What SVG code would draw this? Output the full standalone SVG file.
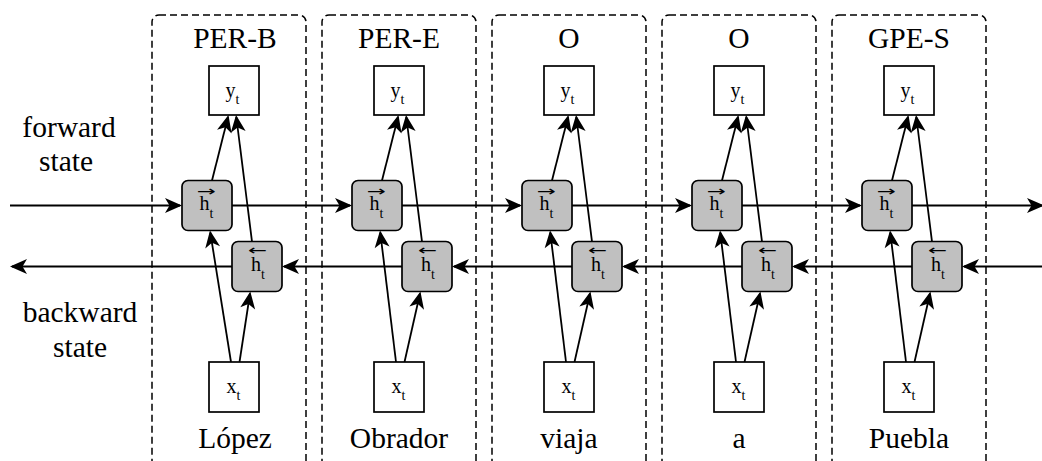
<svg xmlns="http://www.w3.org/2000/svg" width="1042" height="461" viewBox="0 0 1042 461">
<style>
.col{fill:none;stroke:#000;stroke-width:1.5;stroke-dasharray:7 4}
.io{fill:#fff;stroke:#000;stroke-width:1.7}
.h{fill:#c0c0c0;stroke:#000;stroke-width:1.7}
.lbl{font-family:'Liberation Serif','Times New Roman',Times,serif;font-size:29.5px;fill:#000;text-anchor:middle}
.sym{font-family:'Liberation Serif','Times New Roman',Times,serif;font-size:20px;fill:#000}
.sub{font-size:14px}
.acc{font-family:'DejaVu Sans',sans-serif;font-size:14px;fill:#000}
.cn{fill:none;stroke:#000;stroke-width:1.8;marker-end:url(#ah)}
</style>
<defs>
<marker id="ah" markerUnits="userSpaceOnUse" markerWidth="22" markerHeight="18" viewBox="-19 -9 22 18" refX="-2" refY="0" orient="auto">
<path d="M0,0 L-17,-7.5 L-12.5,0 L-17,7.5 Z" fill="#000"/>
</marker>
</defs>
<rect width="1042" height="461" fill="#fff"/>
<g id="side-labels">
<text class="lbl" x="69" y="137">forward</text>
<text class="lbl" x="66" y="171">state</text>
<text class="lbl" x="80" y="322">backward</text>
<text class="lbl" x="80" y="357">state</text>
</g>
<g id="col1">
<rect class="col" x="152" y="15" width="154" height="470" rx="7"/>
<text class="lbl" x="235" y="48">PER-B</text>
<text class="lbl" x="235" y="448">López</text>
</g>
<g id="col2">
<rect class="col" x="322" y="15" width="154" height="470" rx="7"/>
<text class="lbl" x="399" y="48">PER-E</text>
<text class="lbl" x="399" y="448">Obrador</text>
</g>
<g id="col3">
<rect class="col" x="492" y="15" width="154" height="470" rx="7"/>
<text class="lbl" x="569" y="48">O</text>
<text class="lbl" x="569" y="448">viaja</text>
</g>
<g id="col4">
<rect class="col" x="662" y="15" width="154" height="470" rx="7"/>
<text class="lbl" x="739" y="48">O</text>
<text class="lbl" x="739" y="448">a</text>
</g>
<g id="col5">
<rect class="col" x="832" y="15" width="154" height="470" rx="7"/>
<text class="lbl" x="909" y="48">GPE-S</text>
<text class="lbl" x="909" y="448">Puebla</text>
</g>
<g id="connectors">
<path class="cn" d="M10,205.5 H180"/>
<path class="cn" d="M232,205.5 H350"/>
<path class="cn" d="M402,205.5 H520"/>
<path class="cn" d="M572,205.5 H690"/>
<path class="cn" d="M742,205.5 H860"/>
<path class="cn" d="M912,205.5 H1042"/>
<path class="cn" d="M1044,266.5 H964"/>
<path class="cn" d="M912,266.5 H794"/>
<path class="cn" d="M742,266.5 H624"/>
<path class="cn" d="M572,266.5 H454"/>
<path class="cn" d="M402,266.5 H284"/>
<path class="cn" d="M232,266.5 H12"/>
<path class="cn" d="M212,180.5 L228,117"/>
<path class="cn" d="M252,241.5 L236.3,117"/>
<path class="cn" d="M231,362 L210.3,232.5"/>
<path class="cn" d="M239.5,362 L250,293.5"/>
<path class="cn" d="M382,180.5 L398,117"/>
<path class="cn" d="M422,241.5 L406.3,117"/>
<path class="cn" d="M396,362 L380.3,232.5"/>
<path class="cn" d="M404.5,362 L420,293.5"/>
<path class="cn" d="M552,180.5 L568,117"/>
<path class="cn" d="M592,241.5 L576.3,117"/>
<path class="cn" d="M566,362 L550.3,232.5"/>
<path class="cn" d="M574.5,362 L590,293.5"/>
<path class="cn" d="M722,180.5 L738,117"/>
<path class="cn" d="M762,241.5 L746.3,117"/>
<path class="cn" d="M736,362 L720.3,232.5"/>
<path class="cn" d="M744.5,362 L760,293.5"/>
<path class="cn" d="M892,180.5 L908,117"/>
<path class="cn" d="M932,241.5 L916.3,117"/>
<path class="cn" d="M906,362 L890.3,232.5"/>
<path class="cn" d="M914.5,362 L930,293.5"/>
</g>
<g id="y1"><rect class="io" x="209" y="66" width="50" height="49"/><text class="sym" x="225.5" y="97">y<tspan class="sub" dy="7">t</tspan></text></g>
<g id="x1"><rect class="io" x="209" y="362" width="50" height="50"/><text class="sym" x="226.5" y="393">x<tspan class="sub" dy="7">t</tspan></text></g>
<g id="hf1"><rect class="h" x="182" y="180.5" width="50" height="50" rx="6"/><text class="acc" x="196.7" y="195.5" textLength="19" lengthAdjust="spacingAndGlyphs">→</text><text class="sym" x="199.5" y="210">h<tspan class="sub" dy="8">t</tspan></text></g>
<g id="hb1"><rect class="h" x="232" y="241.5" width="50" height="50" rx="6"/><text class="acc" x="248" y="254.5" textLength="19" lengthAdjust="spacingAndGlyphs">←</text><text class="sym" x="251" y="271">h<tspan class="sub" dy="7.5">t</tspan></text></g>
<g id="y2"><rect class="io" x="374" y="66" width="50" height="49"/><text class="sym" x="390.5" y="97">y<tspan class="sub" dy="7">t</tspan></text></g>
<g id="x2"><rect class="io" x="374" y="362" width="50" height="50"/><text class="sym" x="391.5" y="393">x<tspan class="sub" dy="7">t</tspan></text></g>
<g id="hf2"><rect class="h" x="352" y="180.5" width="50" height="50" rx="6"/><text class="acc" x="366.7" y="195.5" textLength="19" lengthAdjust="spacingAndGlyphs">→</text><text class="sym" x="369.5" y="210">h<tspan class="sub" dy="8">t</tspan></text></g>
<g id="hb2"><rect class="h" x="402" y="241.5" width="50" height="50" rx="6"/><text class="acc" x="418" y="254.5" textLength="19" lengthAdjust="spacingAndGlyphs">←</text><text class="sym" x="421" y="271">h<tspan class="sub" dy="7.5">t</tspan></text></g>
<g id="y3"><rect class="io" x="544" y="66" width="50" height="49"/><text class="sym" x="560.5" y="97">y<tspan class="sub" dy="7">t</tspan></text></g>
<g id="x3"><rect class="io" x="544" y="362" width="50" height="50"/><text class="sym" x="561.5" y="393">x<tspan class="sub" dy="7">t</tspan></text></g>
<g id="hf3"><rect class="h" x="522" y="180.5" width="50" height="50" rx="6"/><text class="acc" x="536.7" y="195.5" textLength="19" lengthAdjust="spacingAndGlyphs">→</text><text class="sym" x="539.5" y="210">h<tspan class="sub" dy="8">t</tspan></text></g>
<g id="hb3"><rect class="h" x="572" y="241.5" width="50" height="50" rx="6"/><text class="acc" x="588" y="254.5" textLength="19" lengthAdjust="spacingAndGlyphs">←</text><text class="sym" x="591" y="271">h<tspan class="sub" dy="7.5">t</tspan></text></g>
<g id="y4"><rect class="io" x="714" y="66" width="50" height="49"/><text class="sym" x="730.5" y="97">y<tspan class="sub" dy="7">t</tspan></text></g>
<g id="x4"><rect class="io" x="714" y="362" width="50" height="50"/><text class="sym" x="731.5" y="393">x<tspan class="sub" dy="7">t</tspan></text></g>
<g id="hf4"><rect class="h" x="692" y="180.5" width="50" height="50" rx="6"/><text class="acc" x="706.7" y="195.5" textLength="19" lengthAdjust="spacingAndGlyphs">→</text><text class="sym" x="709.5" y="210">h<tspan class="sub" dy="8">t</tspan></text></g>
<g id="hb4"><rect class="h" x="742" y="241.5" width="50" height="50" rx="6"/><text class="acc" x="758" y="254.5" textLength="19" lengthAdjust="spacingAndGlyphs">←</text><text class="sym" x="761" y="271">h<tspan class="sub" dy="7.5">t</tspan></text></g>
<g id="y5"><rect class="io" x="884" y="66" width="50" height="49"/><text class="sym" x="900.5" y="97">y<tspan class="sub" dy="7">t</tspan></text></g>
<g id="x5"><rect class="io" x="884" y="362" width="50" height="50"/><text class="sym" x="901.5" y="393">x<tspan class="sub" dy="7">t</tspan></text></g>
<g id="hf5"><rect class="h" x="862" y="180.5" width="50" height="50" rx="6"/><text class="acc" x="876.7" y="195.5" textLength="19" lengthAdjust="spacingAndGlyphs">→</text><text class="sym" x="879.5" y="210">h<tspan class="sub" dy="8">t</tspan></text></g>
<g id="hb5"><rect class="h" x="912" y="241.5" width="50" height="50" rx="6"/><text class="acc" x="928" y="254.5" textLength="19" lengthAdjust="spacingAndGlyphs">←</text><text class="sym" x="931" y="271">h<tspan class="sub" dy="7.5">t</tspan></text></g>
</svg>
